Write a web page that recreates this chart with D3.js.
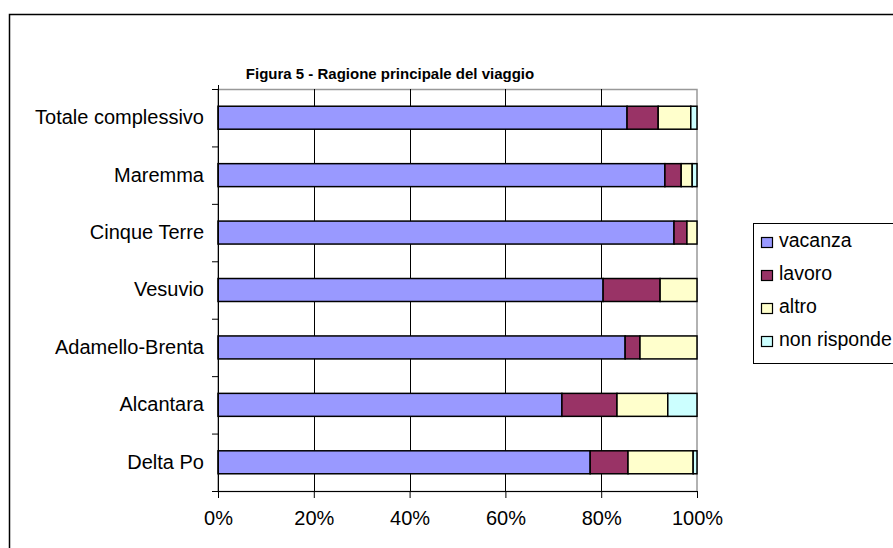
<!DOCTYPE html>
<html lang="it">
  <head>
    <meta charset="utf-8">
    <title>Figura 5 - Ragione principale del viaggio</title>
    <style>
      body { margin: 0; background: #fff; }
      svg { display: block; font-family: "Liberation Sans", Arial, sans-serif; }
    </style>
    <script src="https://d3js.org/d3.v7.min.js"></script>
  </head>
  <body>
    <script>
    // data (percent of each row)
    const categories = ["Totale complessivo", "Maremma", "Cinque Terre", "Vesuvio", "Adamello-Brenta", "Alcantara", "Delta Po"];
    const seriesNames = ["vacanza", "lavoro", "altro", "non risponde"];
    const vacanza = [85.4, 93.3, 95.2, 80.4, 85.0, 71.8, 77.7];
    const lavoro = [6.5, 3.4, 2.7, 11.9, 3.1, 11.5, 7.9];
    const altro = [6.8, 2.3, 2.1, 7.7, 11.9, 10.6, 13.6];
    const nonRisponde = [1.3, 1.0, 0.0, 0.0, 0.0, 6.1, 0.8];
    const xTicks = [0, 20, 40, 60, 80, 100];
    const colors = ["#9999ff", "#993366", "#ffffcc", "#ccffff"];

    const W = 893, H = 548;
    const plot = { left: 218, right: 697, top: 89, bottom: 491 };

    const rows = categories.map((c, i) => ({
      cat: c, vacanza: vacanza[i], lavoro: lavoro[i], altro: altro[i], "non risponde": nonRisponde[i]
    }));
    const stacked = d3.stack().keys(seriesNames)(rows);

    const svg = d3.select("body").append("svg")
        .attr("width", W).attr("height", H);

    // outer chart frame
    svg.append("rect")
        .attr("x", 9.5).attr("y", 14.5)
        .attr("width", 900).attr("height", 560)
        .attr("fill", "#fff").attr("stroke", "#000").attr("stroke-width", 1.5);

    svg.append("text")
        .attr("x", 390).attr("y", 79)
        .attr("text-anchor", "middle")
        .style("font-size", "15px").style("font-weight", "bold")
        .text("Figura 5 - Ragione principale del viaggio");

    const x = d3.scaleLinear().domain([0, 100]).range([plot.left, plot.right]);
    const y = d3.scaleBand().domain(categories).range([plot.top, plot.bottom]).paddingInner(0.6).paddingOuter(0.3);
    const yb = d3.scaleBand().domain(categories).range([plot.top, plot.bottom]);

    // plot area border (grey)
    svg.append("rect")
        .attr("x", plot.left).attr("y", plot.top + 0.5)
        .attr("width", plot.right - plot.left).attr("height", plot.bottom - plot.top)
        .attr("fill", "none").attr("stroke", "#999").attr("stroke-width", 1.5);

    // gridlines
    svg.append("g").selectAll("line")
        .data(xTicks.slice(1, -1))
        .join("line")
        .attr("x1", d => Math.round(x(d)) + 0.5).attr("x2", d => Math.round(x(d)) + 0.5)
        .attr("y1", plot.top).attr("y2", plot.bottom)
        .attr("stroke", "#000").attr("stroke-width", 1);

    // bars
    svg.append("g").selectAll("g")
        .data(stacked)
        .join("g")
        .attr("fill", (d, i) => colors[i])
        .selectAll("rect")
        .data(d => d.filter(p => p[1] - p[0] > 0))
        .join("rect")
        .attr("x", d => x(d[0]))
        .attr("width", d => x(d[1]) - x(d[0]))
        .attr("y", d => y(d.data.cat))
        .attr("height", y.bandwidth())
        .attr("stroke", "#000").attr("stroke-width", 1.5);

    // x axis
    const xAxis = svg.append("g")
        .attr("transform", `translate(0,${plot.bottom})`)
        .call(d3.axisBottom(x).tickValues(xTicks).tickFormat(d => d + "%").tickSize(7).tickPadding(13));
    xAxis.select(".domain").attr("d", `M${plot.left - 6},0.5H${plot.right}`).attr("stroke", "#000");
    xAxis.selectAll("text").style("font-size", "20px").style("fill", "#000");
    xAxis.selectAll("line").attr("stroke", "#000");

    // y axis
    const yAxis = svg.append("g")
        .attr("transform", `translate(${plot.left},0)`)
        .call(d3.axisLeft(yb).tickSize(0).tickPadding(14));
    yAxis.select(".domain").attr("d", `M0.5,${plot.top - 4}V${plot.bottom + 6}`).attr("stroke", "#000");
    yAxis.selectAll("text").style("font-size", "20px").style("fill", "#000");
    yAxis.append("g").selectAll("line")
        .data(categories.slice(1))
        .join("line")
        .attr("x1", -6).attr("x2", 0)
        .attr("y1", d => yb(d) + 0.5).attr("y2", d => yb(d) + 0.5)
        .attr("stroke", "#000");
    yAxis.append("line")
        .attr("x1", -6).attr("x2", 0)
        .attr("y1", plot.top + 0.5).attr("y2", plot.top + 0.5)
        .attr("stroke", "#000");

    // legend
    const legend = svg.append("g").attr("transform", "translate(753,223)");
    legend.append("rect")
        .attr("x", 0.5).attr("y", 0.5).attr("width", 200).attr("height", 140)
        .attr("fill", "#fff").attr("stroke", "#000").attr("stroke-width", 1);
    const item = legend.selectAll(".item")
        .data(seriesNames)
        .join("g")
        .attr("class", "item")
        .attr("transform", (d, i) => `translate(0,${24 + i * 33})`);
    item.append("rect")
        .attr("x", 8.5).attr("y", -9.5).attr("width", 11).attr("height", 10)
        .attr("fill", (d, i) => colors[i]).attr("stroke", "#000").attr("stroke-width", 1.2);
    item.append("text")
        .attr("x", 26).attr("y", 0)
        .style("font-size", "19.5px")
        .text(d => d);
    </script>
  </body>
</html>
